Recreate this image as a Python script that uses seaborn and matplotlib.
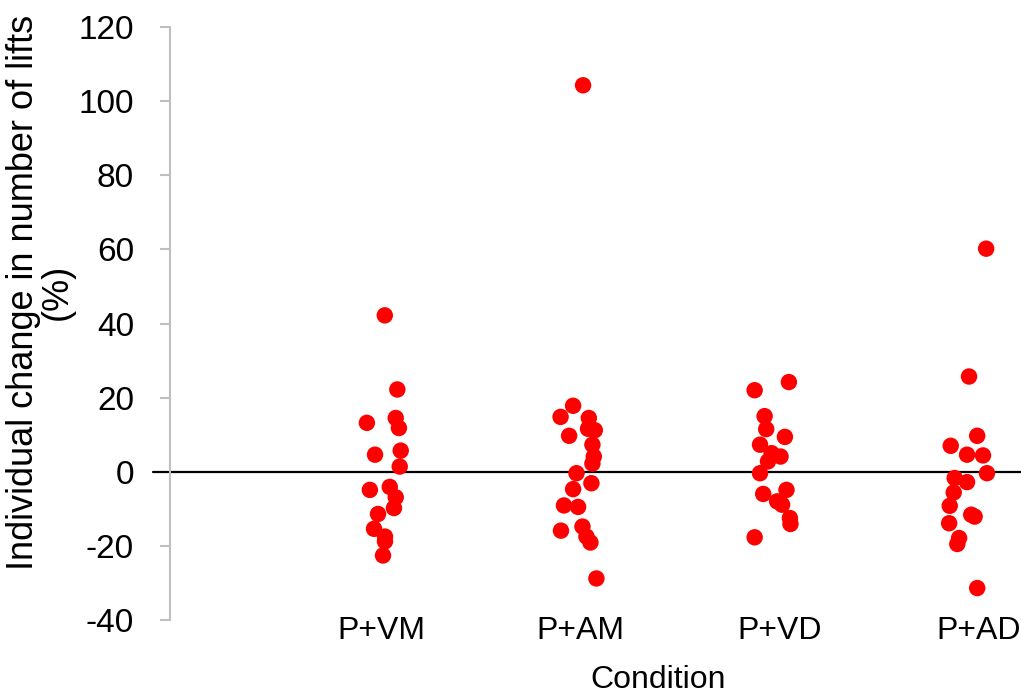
import matplotlib
matplotlib.use("Agg")
import matplotlib.pyplot as plt
import seaborn as sns
import pandas as pd

# ---- data ----
conditions = ["P+VM", "P+AM", "P+VD", "P+AD"]
tick_positions = [1, 2, 3, 4]

vm_x = [1.019, 1.082, 0.929, 1.074, 1.090, 0.970, 1.099, 1.094, 0.944, 1.044,
        1.074, 1.065, 0.985, 0.965, 1.020, 1.020, 1.010]
vm_y = [42.2, 22.2, 13.2, 14.5, 11.8, 4.6, 5.7, 1.4, -4.9, -4.1,
        -6.9, -9.8, -11.4, -15.4, -17.5, -18.8, -22.6]

am_x = [2.015, 1.965, 1.902, 2.044, 2.040, 2.074, 1.945, 2.062, 2.069, 2.062,
        1.982, 2.057, 1.965, 1.919, 1.990, 1.904, 2.012, 2.032, 2.052, 2.082]
am_y = [104.3, 17.8, 14.8, 14.5, 11.6, 11.2, 9.7, 7.3, 4.1, 2.2,
        -0.4, -3.1, -4.7, -9.1, -9.5, -15.9, -14.8, -17.5, -19.1, -28.8]

vd_x = [3.049, 2.877, 2.927, 2.935, 3.029, 2.904, 2.962, 3.007, 2.944, 2.904,
        2.920, 3.037, 2.990, 3.015, 3.054, 3.057, 2.877]
vd_y = [24.2, 22.0, 15.0, 11.5, 9.4, 7.3, 5.0, 4.1, 2.8, -0.4,
        -6.0, -4.9, -8.0, -8.9, -12.5, -14.1, -17.7]

ad_x = [4.040, 3.954, 3.995, 3.862, 3.944, 4.024, 4.044, 3.882, 3.944, 3.877,
        3.857, 3.965, 3.982, 3.854, 3.904, 3.895, 3.995]
ad_y = [60.2, 25.7, 9.7, 7.0, 4.6, 4.4, -0.4, -1.7, -2.8, -5.6,
        -9.2, -11.6, -12.1, -13.9, -17.9, -19.5, -31.4]

y_ticks = [-40, -20, 0, 20, 40, 60, 80, 100, 120]

df = pd.DataFrame({
    "x": vm_x + am_x + vd_x + ad_x,
    "y": vm_y + am_y + vd_y + ad_y,
})

# ---- styling ----
sns.set_theme(style="white")
plt.rcParams["font.family"] = ["Liberation Sans", "DejaVu Sans"]

fig = plt.figure(figsize=(10.21, 6.95), dpi=100)
ax = fig.add_axes([0.1665, 0.108, 0.8335, 0.853])

sns.scatterplot(data=df, x="x", y="y", ax=ax, color="#FF0000", s=140,
                edgecolor="none", linewidth=0, zorder=3, legend=False)

ax.set_xlim(-0.06, 4.215)
ax.set_ylim(-40, 120)
ax.set_yticks(y_ticks)
ax.set_yticklabels([str(t) for t in y_ticks])
ax.set_xticks(tick_positions)
ax.set_xticklabels(conditions)

for side in ["top", "right", "bottom"]:
    ax.spines[side].set_visible(False)
ax.spines["left"].set_color("#BFBFBF")
ax.spines["left"].set_linewidth(1.5)

ax.tick_params(axis="y", direction="out", length=7, width=1.5, color="#BFBFBF",
               labelsize=24, pad=19, left=True, labelcolor="black")
ax.tick_params(axis="x", length=0, labelsize=23, pad=-3, labelcolor="black")

ax.axhline(0, xmin=-0.02, xmax=1.0, color="black", lw=1.6, clip_on=False, zorder=2)

ax.set_xlabel("Condition", fontsize=23, color="black")
ax.xaxis.set_label_coords(0.574, -0.076)
ax.set_ylabel("Individual change in number of lifts\n(%)", fontsize=26,
              color="black", linespacing=0.95)
ax.yaxis.set_label_coords(-0.112, 0.553)

fig.savefig("out.png", dpi=100, facecolor="white")
